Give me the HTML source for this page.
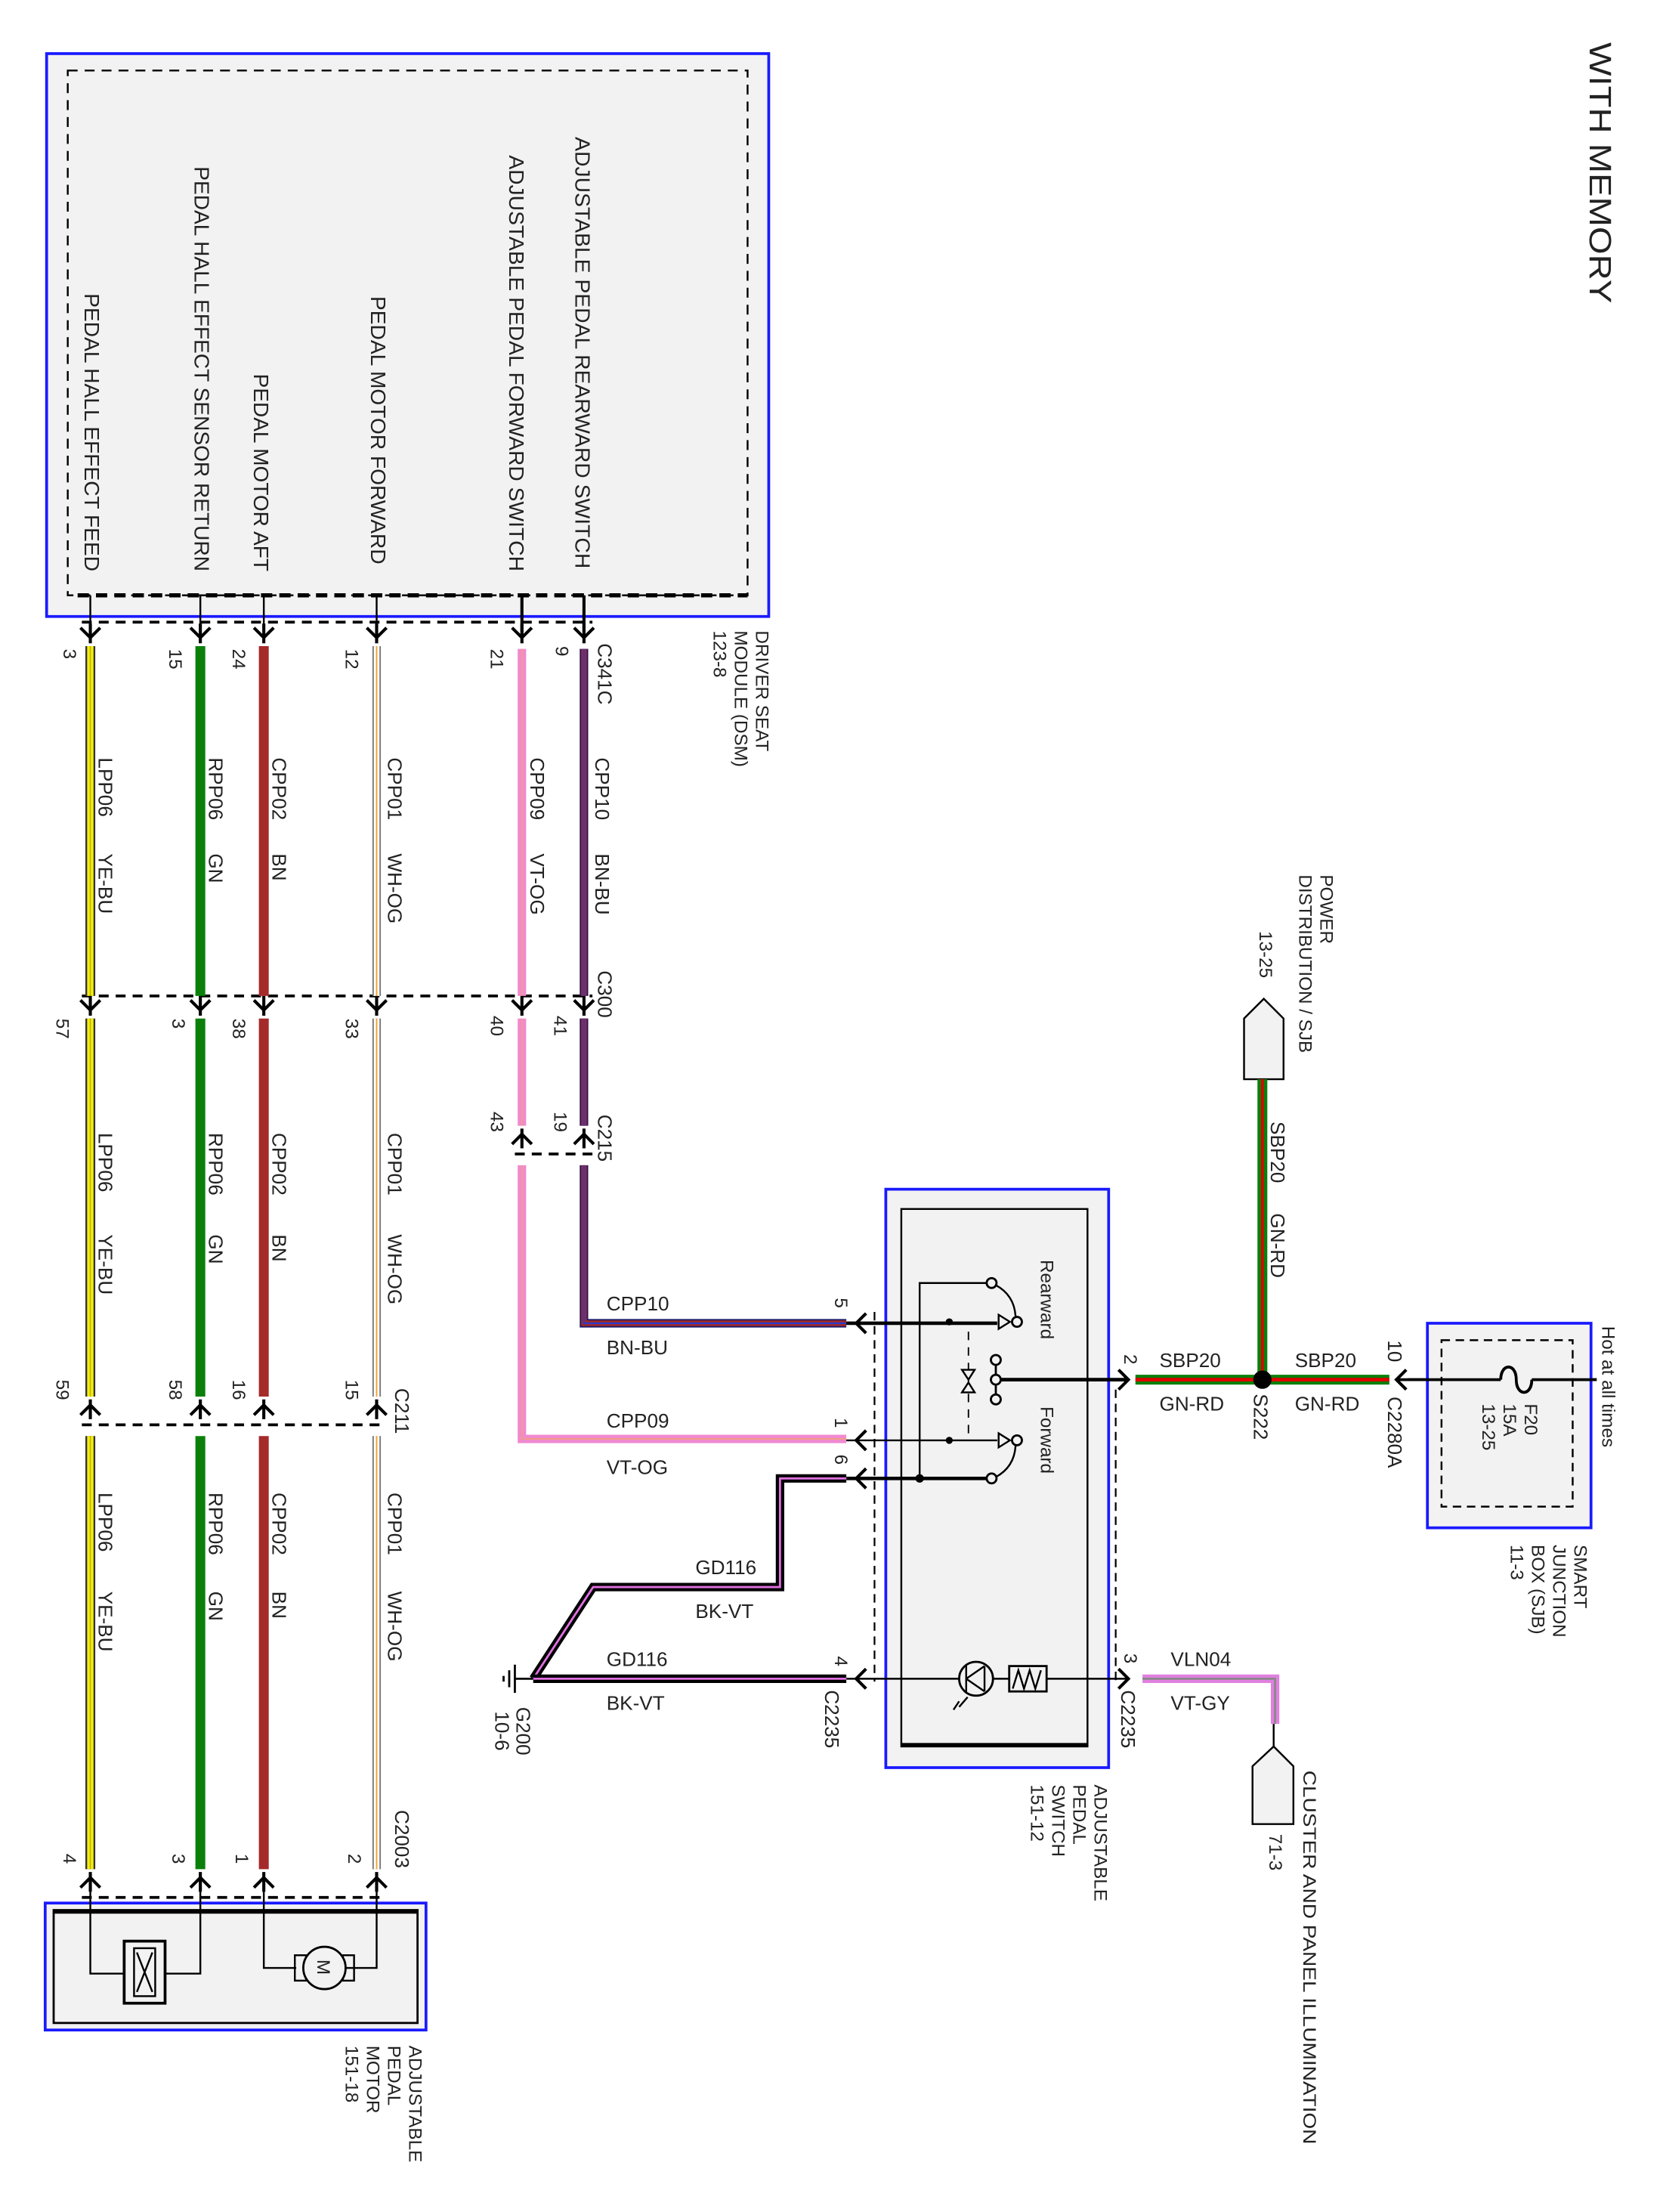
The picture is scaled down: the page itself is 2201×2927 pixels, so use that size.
<!DOCTYPE html>
<html><head><meta charset="utf-8"><style>
html,body{margin:0;padding:0;background:#fff;}
svg{display:block;}
text{font-family:"Liberation Sans",sans-serif;fill:#222;}
</style></head><body>
<svg width="2201" height="2927" viewBox="0 0 1179 1568" xmlns="http://www.w3.org/2000/svg">
<rect x="0" y="0" width="1179" height="1568" fill="#fff"/>
<defs>
<path id="dn" d="M-7,-7 L0,0 L7,-7 M0,-10 V4" fill="none" stroke="#000" stroke-width="2.2"/>
<path id="up" d="M-7,7 L0,0 L7,7 M0,-4 V10" fill="none" stroke="#000" stroke-width="2.2"/>
<path id="lf" d="M7,-7 L0,0 L7,7" fill="none" stroke="#000" stroke-width="2.2"/>
<path id="rt" d="M-7,-7 L0,0 L-7,7" fill="none" stroke="#000" stroke-width="2.2"/>
</defs>

<!-- WITH MEMORY -->
<text transform="translate(1127,30) rotate(90)" font-size="22" textLength="185" lengthAdjust="spacingAndGlyphs">WITH MEMORY</text>

<!-- DSM box -->
<rect x="33" y="38" width="512" height="399" fill="#f2f2f2" stroke="#1a1aff" stroke-width="2"/>
<rect x="48" y="50" width="482" height="372" fill="none" stroke="#000" stroke-width="1.3" stroke-dasharray="7,5"/>
<line x1="55" y1="422" x2="530" y2="422" stroke="#000" stroke-width="3" stroke-dasharray="8,5"/>
<g font-size="15">
<text transform="translate(408,97) rotate(90)" textLength="306" lengthAdjust="spacingAndGlyphs">ADJUSTABLE PEDAL REARWARD SWITCH</text>
<text transform="translate(361,110) rotate(90)" textLength="295" lengthAdjust="spacingAndGlyphs">ADJUSTABLE PEDAL FORWARD SWITCH</text>
<text transform="translate(263,210) rotate(90)" textLength="190" lengthAdjust="spacingAndGlyphs">PEDAL MOTOR FORWARD</text>
<text transform="translate(180,265) rotate(90)" textLength="140" lengthAdjust="spacingAndGlyphs">PEDAL MOTOR AFT</text>
<text transform="translate(138,118) rotate(90)" textLength="287" lengthAdjust="spacingAndGlyphs">PEDAL HALL EFFECT SENSOR RETURN</text>
<text transform="translate(60,208) rotate(90)" textLength="197" lengthAdjust="spacingAndGlyphs">PEDAL HALL EFFECT FEED</text>
</g>
<g stroke="#000" stroke-width="1.3">
<line x1="64" y1="422" x2="64" y2="448"/><line x1="142" y1="422" x2="142" y2="448"/>
<line x1="187" y1="422" x2="187" y2="448"/><line x1="267" y1="422" x2="267" y2="448"/>
<line x1="370" y1="422" x2="370" y2="448" stroke-width="2.2"/><line x1="414" y1="422" x2="414" y2="448" stroke-width="2.2"/>
</g>
<g font-size="13">
<text transform="translate(536,447) rotate(90)">DRIVER SEAT</text>
<text transform="translate(521,447) rotate(90)">MODULE (DSM)</text>
<text transform="translate(506,447) rotate(90)">123-8</text>
</g>

<!-- connector dashed lines -->
<g stroke="#000" stroke-width="2" stroke-dasharray="7,5" fill="none">
<line x1="58" y1="441" x2="420" y2="441"/>
<line x1="58" y1="706" x2="420" y2="706"/>
<line x1="365" y1="818" x2="420" y2="818"/>
<line x1="58" y1="1010" x2="272" y2="1010"/>
<line x1="58" y1="1345" x2="272" y2="1345"/>
</g>

<!-- vertical wires -->
<g fill="none" stroke-linecap="butt">
<!-- col1 yellow -->
<g>
<path d="M64,458V706 M64,722V990 M64,1018V1325" stroke="#333" stroke-width="7"/>
<path d="M64,458V706 M64,722V990 M64,1018V1325" stroke="#f5ee10" stroke-width="4.5"/>
<path d="M64,458V706 M64,722V990 M64,1018V1325" stroke="#b8b000" stroke-width="0.8"/>
</g>
<path d="M142,458V706 M142,722V990 M142,1018V1325" stroke="#0a800a" stroke-width="7"/>
<path d="M187,458V706 M187,722V990 M187,1018V1325" stroke="#a52a2a" stroke-width="7"/>
<g>
<path d="M267,458V706 M267,722V990 M267,1018V1325" stroke="#777" stroke-width="6"/>
<path d="M267,458V706 M267,722V990 M267,1018V1325" stroke="#fff" stroke-width="4"/>
<path d="M267,458V706 M267,722V990 M267,1018V1325" stroke="#f0a030" stroke-width="1"/>
</g>
<!-- col5 pink VT-OG -->
<path d="M370,460V706 M370,722V798 M370,826V1020H600" stroke="#f08ad0" stroke-width="6"/>
<path d="M370,460V706 M370,722V798 M370,826V1020H600" stroke="#f3a070" stroke-width="0.8"/>
<!-- col6 BN-BU -->
<path d="M414,460V706 M414,722V798 M414,826V938H600" stroke="#1a1a6a" stroke-width="6"/>
<path d="M414,460V706 M414,722V798 M414,826V938H600" stroke="#a02828" stroke-width="4"/>
<path d="M414,460V706 M414,722V798 M414,826V938H600" stroke="#2a3ad0" stroke-width="1.2"/>
</g>

<!-- chevrons vertical -->
<g>
<use href="#dn" x="64" y="452"/><use href="#dn" x="142" y="452"/><use href="#dn" x="187" y="452"/><use href="#dn" x="267" y="452"/><use href="#dn" x="370" y="452"/><use href="#dn" x="414" y="452"/>
<use href="#dn" x="64" y="716"/><use href="#dn" x="142" y="716"/><use href="#dn" x="187" y="716"/><use href="#dn" x="267" y="716"/><use href="#dn" x="370" y="716"/><use href="#dn" x="414" y="716"/>
<use href="#up" x="370" y="804"/><use href="#up" x="414" y="804"/>
<use href="#up" x="64" y="996"/><use href="#up" x="142" y="996"/><use href="#up" x="187" y="996"/><use href="#up" x="267" y="996"/>
<use href="#up" x="64" y="1331"/><use href="#up" x="142" y="1331"/><use href="#up" x="187" y="1331"/><use href="#up" x="267" y="1331"/>
</g>

<!-- pin numbers -->
<g font-size="13">
<text transform="translate(45,460) rotate(90)">3</text>
<text transform="translate(120,460) rotate(90)">15</text>
<text transform="translate(165,460) rotate(90)">24</text>
<text transform="translate(245,460) rotate(90)">12</text>
<text transform="translate(348,460) rotate(90)">21</text>
<text transform="translate(394,458) rotate(90)">9</text>
<text transform="translate(40,722) rotate(90)">57</text>
<text transform="translate(122,722) rotate(90)">3</text>
<text transform="translate(165,722) rotate(90)">38</text>
<text transform="translate(245,722) rotate(90)">33</text>
<text transform="translate(348,720) rotate(90)">40</text>
<text transform="translate(393,720) rotate(90)">41</text>
<text transform="translate(348,788) rotate(90)">43</text>
<text transform="translate(393,788) rotate(90)">19</text>
<text transform="translate(40,978) rotate(90)">59</text>
<text transform="translate(120,978) rotate(90)">58</text>
<text transform="translate(165,978) rotate(90)">16</text>
<text transform="translate(245,978) rotate(90)">15</text>
<text transform="translate(45,1314) rotate(90)">4</text>
<text transform="translate(122,1314) rotate(90)">3</text>
<text transform="translate(167,1314) rotate(90)">1</text>
<text transform="translate(247,1314) rotate(90)">2</text>
</g>
<g font-size="14">
<text transform="translate(424,456) rotate(90)">C341C</text>
<text transform="translate(424,688) rotate(90)">C300</text>
<text transform="translate(424,790) rotate(90)">C215</text>
<text transform="translate(280,984) rotate(90)">C211</text>
<text transform="translate(280,1283) rotate(90)">C2003</text>
</g>

<!-- wire labels -->
<g font-size="14">
<text transform="translate(70,537) rotate(90)">LPP06</text><text transform="translate(70,605) rotate(90)">YE-BU</text>
<text transform="translate(148,537) rotate(90)">RPP06</text><text transform="translate(148,605) rotate(90)">GN</text>
<text transform="translate(193,537) rotate(90)">CPP02</text><text transform="translate(193,605) rotate(90)">BN</text>
<text transform="translate(275,537) rotate(90)">CPP01</text><text transform="translate(275,605) rotate(90)">WH-OG</text>
<text transform="translate(376,537) rotate(90)">CPP09</text><text transform="translate(376,605) rotate(90)">VT-OG</text>
<text transform="translate(422,537) rotate(90)">CPP10</text><text transform="translate(422,605) rotate(90)">BN-BU</text>

<text transform="translate(70,803) rotate(90)">LPP06</text><text transform="translate(70,875) rotate(90)">YE-BU</text>
<text transform="translate(148,803) rotate(90)">RPP06</text><text transform="translate(148,875) rotate(90)">GN</text>
<text transform="translate(193,803) rotate(90)">CPP02</text><text transform="translate(193,875) rotate(90)">BN</text>
<text transform="translate(275,803) rotate(90)">CPP01</text><text transform="translate(275,875) rotate(90)">WH-OG</text>

<text transform="translate(70,1058) rotate(90)">LPP06</text><text transform="translate(70,1128) rotate(90)">YE-BU</text>
<text transform="translate(148,1058) rotate(90)">RPP06</text><text transform="translate(148,1128) rotate(90)">GN</text>
<text transform="translate(193,1058) rotate(90)">CPP02</text><text transform="translate(193,1128) rotate(90)">BN</text>
<text transform="translate(275,1058) rotate(90)">CPP01</text><text transform="translate(275,1128) rotate(90)">WH-OG</text>
</g>

<!-- motor box -->
<rect x="32" y="1349" width="270" height="90" fill="#f2f2f2" stroke="#1a1aff" stroke-width="2"/>
<rect x="38" y="1354" width="258" height="80" fill="none" stroke="#000" stroke-width="1.5"/>
<line x1="38" y1="1355" x2="296" y2="1355" stroke="#000" stroke-width="3"/>
<g stroke="#000" stroke-width="1.3" fill="none">
<path d="M64,1331V1399H88 M142,1331V1399H117"/>
<rect x="88" y="1376" width="29" height="44" stroke-width="2"/>
<rect x="95" y="1381" width="15" height="34"/>
<path d="M97,1384L108,1412 M108,1384L97,1412"/>
<path d="M187,1331V1395H210 M267,1331V1395H245"/>
<rect x="209" y="1386" width="8" height="18"/><rect x="243" y="1386" width="8" height="18"/>
<circle cx="230" cy="1395" r="15" fill="#f2f2f2" stroke-width="1.5"/>
</g>
<text transform="translate(225,1389) rotate(90)" font-size="13" fill="#666">M</text>
<g font-size="13">
<text transform="translate(290,1450) rotate(90)">ADJUSTABLE</text>
<text transform="translate(275,1450) rotate(90)">PEDAL</text>
<text transform="translate(260,1450) rotate(90)">MOTOR</text>
<text transform="translate(245,1450) rotate(90)">151-18</text>
</g>

<!-- power distribution -->
<polygon points="882,722 896,708 910,722 910,765 882,765" fill="#f2f2f2" stroke="#000" stroke-width="1.3"/>
<g font-size="13">
<text transform="translate(936,620) rotate(90)">POWER</text>
<text transform="translate(921,620) rotate(90)">DISTRIBUTION / SJB</text>
<text transform="translate(893,660) rotate(90)">13-25</text>
</g>
<g fill="none">
<path d="M895,765V978" stroke="#0a800a" stroke-width="7"/>
<path d="M895,765V978" stroke="#e00000" stroke-width="2"/>
<path d="M805,978H985" stroke="#0a800a" stroke-width="7"/>
<path d="M805,978H985" stroke="#e00000" stroke-width="2.5"/>
</g>
<circle cx="895" cy="978" r="6.5" fill="#000"/>
<g font-size="14">
<text transform="translate(901,795) rotate(90)">SBP20</text>
<text transform="translate(901,860) rotate(90)">GN-RD</text>
<text x="822" y="969">SBP20</text><text x="822" y="1000">GN-RD</text>
<text x="918" y="969">SBP20</text><text x="918" y="1000">GN-RD</text>
<text transform="translate(889,988) rotate(90)">S222</text>
<text transform="translate(984,990) rotate(90)">C2280A</text>
<text transform="translate(984,950) rotate(90)">10</text>
</g>
<use href="#lf" x="990" y="978"/>
<line x1="990" y1="978" x2="1132" y2="978" stroke="#000" stroke-width="2"/>

<!-- SJB -->
<rect x="1012" y="938" width="116" height="145" fill="#f2f2f2" stroke="#1a1aff" stroke-width="2"/>
<rect x="1022" y="950" width="93" height="118" fill="none" stroke="#000" stroke-width="1.3" stroke-dasharray="6,4"/>
<line x1="998" y1="978" x2="1132" y2="978" stroke="#000" stroke-width="2"/>
<path d="M1064,978 C1064,966 1075,966 1075,978 C1075,990 1086,990 1086,978" fill="#f2f2f2" stroke="#000" stroke-width="2"/>
<rect x="1064" y="975" width="22" height="6" fill="#f2f2f2"/>
<path d="M1064,978 C1064,966 1075,966 1075,978 C1075,990 1086,990 1086,978" fill="none" stroke="#000" stroke-width="2"/>
<g font-size="13">
<text transform="translate(1081,995) rotate(90)">F20</text>
<text transform="translate(1066,995) rotate(90)">15A</text>
<text transform="translate(1051,995) rotate(90)">13-25</text>
<text transform="translate(1136,940) rotate(90)">Hot at all times</text>
<text transform="translate(1116,1095) rotate(90)">SMART</text>
<text transform="translate(1101,1095) rotate(90)">JUNCTION</text>
<text transform="translate(1086,1095) rotate(90)">BOX (SJB)</text>
<text transform="translate(1071,1095) rotate(90)">11-3</text>
</g>

<!-- pedal switch -->
<rect x="628" y="843" width="158" height="410" fill="#f2f2f2" stroke="#1a1aff" stroke-width="2"/>
<rect x="639" y="857" width="132" height="381" fill="none" stroke="#000" stroke-width="1.3"/>
<line x1="639" y1="1237" x2="771" y2="1237" stroke="#000" stroke-width="3"/>
<g stroke="#000" stroke-width="1.2" stroke-dasharray="6,4">
<line x1="620" y1="930" x2="620" y2="1192"/>
<line x1="791" y1="985" x2="791" y2="1192"/>
</g>
<!-- switch internals -->
<g stroke="#000" fill="none">
<path d="M600,938H707" stroke-width="2.5"/>
<path d="M600,1021H707" stroke-width="1.3"/>
<path d="M600,1048H700" stroke-width="2.5"/>
<path d="M652,1048V909.5H700" stroke-width="1.3"/>
<path d="M706,978H800" stroke-width="2.5"/>
<path d="M706,964V992" stroke-width="1.5"/>
<circle cx="706" cy="964" r="3.5" fill="#f2f2f2" stroke-width="1.5"/>
<circle cx="706" cy="978" r="3.5" fill="#f2f2f2" stroke-width="1.5"/>
<circle cx="706" cy="992" r="3.5" fill="#f2f2f2" stroke-width="1.5"/>
<circle cx="703" cy="909.5" r="3.5" fill="#f2f2f2" stroke-width="1.5"/>
<circle cx="703" cy="1048" r="3.5" fill="#f2f2f2" stroke-width="1.5"/>
<circle cx="721" cy="937" r="3.5" fill="#f2f2f2" stroke-width="1.5"/>
<circle cx="721" cy="1021" r="3.5" fill="#f2f2f2" stroke-width="1.5"/>
<path d="M706,911 Q719,918 720,933" stroke-width="1.3"/>
<path d="M720,1025 Q719,1040 706,1047" stroke-width="1.3"/>
<path d="M708,932L716,937L708,942Z" fill="#f2f2f2" stroke-width="1.3"/>
<path d="M708,1016L716,1021L708,1026Z" fill="#f2f2f2" stroke-width="1.3"/>
<path d="M686.6,944V1021" stroke-width="1" stroke-dasharray="6,5"/>
<path d="M682,971H691L686.6,978Z" fill="#f2f2f2" stroke-width="1.3"/>
<path d="M682,987H691L686.6,980Z" fill="#f2f2f2" stroke-width="1.3"/>
</g>
<circle cx="673" cy="937" r="2.5" fill="#000"/>
<circle cx="673" cy="1021" r="2.5" fill="#000"/>
<circle cx="652" cy="1048" r="3" fill="#000"/>
<g font-size="13" fill="#444">
<text transform="translate(738,893) rotate(90)">Rearward</text>
<text transform="translate(738,997) rotate(90)">Forward</text>
</g>
<!-- lamp row -->
<line x1="600" y1="1190" x2="800" y2="1190" stroke="#000" stroke-width="1.3"/>
<circle cx="692" cy="1190" r="12" fill="#f2f2f2" stroke="#000" stroke-width="1.5"/>
<path d="M685,1180V1200 M685,1190L698,1181 M685,1190L698,1199 M698,1181V1199" stroke="#000" stroke-width="1.3" fill="none"/>
<path d="M686,1203L680,1210 M680,1206L676,1212" stroke="#000" stroke-width="1.3"/>
<rect x="715.5" y="1181" width="26.5" height="18" fill="#f2f2f2" stroke="#000" stroke-width="1.5"/>
<path d="M718,1197L722,1184L726,1197L730,1184L734,1197L738,1184" fill="none" stroke="#000" stroke-width="1.3"/>
<use href="#lf" x="607" y="938"/><use href="#lf" x="607" y="1021"/><use href="#lf" x="607" y="1048"/><use href="#lf" x="607" y="1190"/>
<use href="#rt" x="800" y="978"/><use href="#rt" x="800" y="1190"/>
<g font-size="13">
<text transform="translate(592,920) rotate(90)">5</text>
<text transform="translate(592,1005) rotate(90)">1</text>
<text transform="translate(592,1031) rotate(90)">6</text>
<text transform="translate(592,1174) rotate(90)">4</text>
<text transform="translate(797,960) rotate(90)">2</text>
<text transform="translate(797,1172) rotate(90)">3</text>
<text transform="translate(585,1198) rotate(90)" font-size="14">C2235</text>
<text transform="translate(795,1198) rotate(90)" font-size="14">C2235</text>
<text transform="translate(776,1265) rotate(90)">ADJUSTABLE</text>
<text transform="translate(761,1265) rotate(90)">PEDAL</text>
<text transform="translate(746,1265) rotate(90)">SWITCH</text>
<text transform="translate(731,1265) rotate(90)">151-12</text>
</g>

<!-- GD116 wires -->
<g fill="none" stroke-linejoin="miter">
<path d="M600,1048H553V1125H420.5L378,1190" stroke="#000" stroke-width="6"/>
<path d="M600,1048H553V1125H420.5L378,1190" stroke="#e070e0" stroke-width="1.5"/>
<path d="M600,1190H378" stroke="#000" stroke-width="6"/>
<path d="M600,1190H378" stroke="#e070e0" stroke-width="1.5"/>
</g>
<g stroke="#000" stroke-width="1.5">
<line x1="378" y1="1190" x2="365" y2="1190"/>
<line x1="365" y1="1180" x2="365" y2="1200"/>
<line x1="361" y1="1184" x2="361" y2="1196"/>
<line x1="357" y1="1188" x2="357" y2="1192"/>
</g>
<g font-size="14">
<text x="493" y="1116">GD116</text><text x="493" y="1147">BK-VT</text>
<text x="430" y="1181">GD116</text><text x="430" y="1212">BK-VT</text>
<text x="430" y="929">CPP10</text><text x="430" y="960">BN-BU</text>
<text x="430" y="1012">CPP09</text><text x="430" y="1045">VT-OG</text>
<text transform="translate(366,1210) rotate(90)">G200</text>
<text transform="translate(351,1213) rotate(90)">10-6</text>
<text x="830" y="1181">VLN04</text><text x="830" y="1212">VT-GY</text>
</g>

<!-- VLN04 wire -->
<g fill="none">
<path d="M810,1190H904V1222" stroke="#e080e0" stroke-width="6"/>
<path d="M810,1190H904V1222" stroke="#888" stroke-width="1.5"/>
</g>
<line x1="903" y1="1222" x2="903" y2="1238" stroke="#000" stroke-width="1.3"/>
<polygon points="888,1252 903,1238 917,1252 917,1293 888,1293" fill="#f2f2f2" stroke="#000" stroke-width="1.3"/>
<g font-size="13">
<text transform="translate(924,1255) rotate(90)" textLength="265" lengthAdjust="spacingAndGlyphs">CLUSTER AND PANEL ILLUMINATION</text>
<text transform="translate(900,1300) rotate(90)">71-3</text>
</g>
</svg>
</body></html>
